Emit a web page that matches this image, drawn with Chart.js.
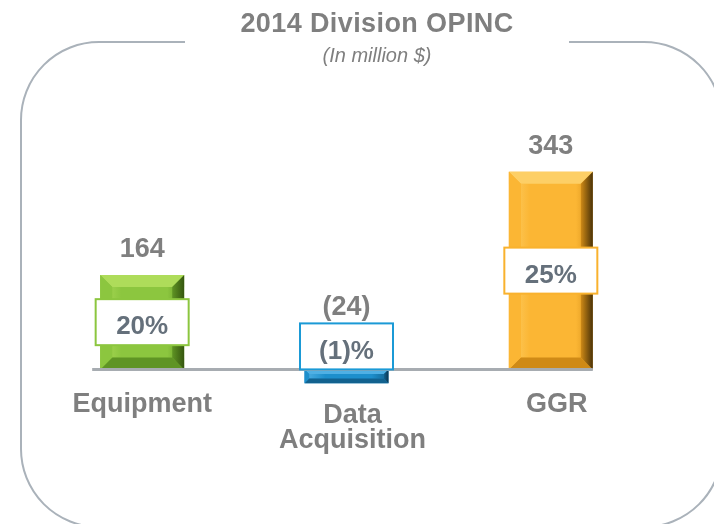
<!DOCTYPE html>
<html>
<head>
<meta charset="utf-8">
<script src="https://cdn.jsdelivr.net/npm/chart.js@4.4.0/dist/chart.umd.min.js"></script>
<style>
  html, body { margin: 0; padding: 0; background: #fff; }
  #wrap { width: 714px; height: 524px; }
</style>
</head>
<body>
<div id="wrap"><canvas id="opinc" width="714" height="524"></canvas></div>
<script>
// chart data
const categories = [['Equipment'], ['Data', 'Acquisition'], ['GGR']];
const opinc = [164, -24, 343];
const valueLabels = ['164', '(24)', '343'];
const marginLabels = ['20%', '(1)%', '25%'];

const titleText = '2014 Division OPINC';
const subTitleText = '(In million $)';

// colours per bar: face, light bevel, dark bevel, edge
const barStyles = [
    { face: '#8cc63f', light: '#aedc5a', dark: '#5f9424', edge: '#35560f', box: '#8cc63f' },
    { face: '#1d8fcc', light: '#4fb0e4', dark: '#12628f', edge: '#0a3550', box: '#1b9ad6' },
    { face: '#fbb634', light: '#fdcf66', dark: '#cf8a16', edge: '#4a3208', box: '#f9b22e' }
];

const FONT = '"Liberation Sans", Arial, sans-serif';
const GREY = '#7f7f7f';

function drawFrame(ctx){
    const l = 21, t = 42, r = 722, b = 527, rad = 78;
    ctx.save();
    ctx.strokeStyle = '#aab2ba';
    ctx.lineWidth = 2;
    ctx.beginPath();
    ctx.moveTo(185, t);
    ctx.arcTo(l, t, l, b, rad);
    ctx.arcTo(l, b, r, b, rad);
    ctx.arcTo(r, b, r, t, rad);
    ctx.arcTo(r, t, l, t, rad);
    ctx.lineTo(569, t);
    ctx.stroke();
    ctx.restore();
}

const decorPlugin = {
    id: 'decor',
    beforeDraw(chart){
        const ctx = chart.ctx;
        drawFrame(ctx);
        ctx.save();
        ctx.fillStyle = GREY;
        ctx.textAlign = 'center';
        ctx.textBaseline = 'alphabetic';
        ctx.font = 'bold 27px ' + FONT;
        ctx.letterSpacing = '0.4px';
        ctx.fillText(titleText, 377, 32);
        ctx.font = 'italic 20px ' + FONT;
        ctx.letterSpacing = '0px';
        ctx.fillText(subTitleText, 377, 62);
        ctx.restore();
    },
    afterDatasetsDraw(chart){
        const ctx = chart.ctx;
        const meta = chart.getDatasetMeta(0);
        const yZero = chart.scales.y.getPixelForValue(0);

        // bevels on top of the plain bars
        meta.data.forEach((bar, i) => {
            const st = barStyles[i];
            const w = bar.width;
            const l = bar.x - w / 2, r = bar.x + w / 2;
            const t = Math.min(bar.y, bar.base), btm = Math.max(bar.y, bar.base);
            const bv = Math.min(12, (btm - t) / 3);
            ctx.save();
            const g = ctx.createLinearGradient(l, 0, r, 0);
            g.addColorStop(0, st.light);
            g.addColorStop(0.25, st.face);
            g.addColorStop(0.8, st.face);
            g.addColorStop(1, st.dark);
            ctx.fillStyle = g;
            ctx.fillRect(l + bv, t + bv, w - 2 * bv, btm - t - 2 * bv);
            // top
            ctx.fillStyle = st.light;
            ctx.beginPath();
            ctx.moveTo(l, t); ctx.lineTo(r, t); ctx.lineTo(r - bv, t + bv); ctx.lineTo(l + bv, t + bv);
            ctx.closePath(); ctx.fill();
            // bottom
            ctx.fillStyle = st.dark;
            ctx.beginPath();
            ctx.moveTo(l, btm); ctx.lineTo(r, btm); ctx.lineTo(r - bv, btm - bv); ctx.lineTo(l + bv, btm - bv);
            ctx.closePath(); ctx.fill();
            // left
            ctx.fillStyle = st.face;
            ctx.beginPath();
            ctx.moveTo(l, t); ctx.lineTo(l + bv, t + bv); ctx.lineTo(l + bv, btm - bv); ctx.lineTo(l, btm);
            ctx.closePath(); ctx.fill();
            // right, shaded towards the edge
            const gr = ctx.createLinearGradient(r - bv, 0, r, 0);
            gr.addColorStop(0, st.dark);
            gr.addColorStop(1, st.edge);
            ctx.fillStyle = gr;
            ctx.beginPath();
            ctx.moveTo(r, t); ctx.lineTo(r - bv, t + bv); ctx.lineTo(r - bv, btm - bv); ctx.lineTo(r, btm);
            ctx.closePath(); ctx.fill();
            ctx.restore();
        });

        // zero line
        const first = meta.data[0], last = meta.data[meta.data.length - 1];
        ctx.save();
        ctx.strokeStyle = '#a7acb1';
        ctx.lineWidth = 3;
        ctx.beginPath();
        ctx.moveTo(first.x - first.width / 2 - 8, yZero);
        ctx.lineTo(last.x + last.width / 2, yZero);
        ctx.stroke();
        ctx.restore();

        // margin boxes, value labels, category labels
        let lowest = yZero;
        meta.data.forEach(bar => { lowest = Math.max(lowest, bar.y, bar.base); });

        meta.data.forEach((bar, i) => {
            const st = barStyles[i];
            const val = opinc[i];
            const cx = bar.x;
            const boxW = 93, boxH = 46;
            const boxCy = val >= 0 ? (bar.y + bar.base) / 2 : yZero - 23;
            ctx.save();
            ctx.fillStyle = '#ffffff';
            ctx.fillRect(cx - boxW / 2, boxCy - boxH / 2, boxW, boxH);
            ctx.strokeStyle = st.box;
            ctx.lineWidth = 2;
            ctx.strokeRect(cx - boxW / 2, boxCy - boxH / 2, boxW, boxH);

            ctx.textAlign = 'center';
            ctx.textBaseline = 'middle';
            ctx.fillStyle = '#65707b';
            ctx.font = 'bold 26px ' + FONT;
            ctx.fillText(marginLabels[i], cx, boxCy + 5);

            ctx.textBaseline = 'alphabetic';
            ctx.fillStyle = GREY;
            ctx.font = 'bold 27px ' + FONT;
            const vy = val >= 0 ? bar.y - 18 : yZero - 54;
            ctx.fillText(valueLabels[i], cx, vy);

            const lines = categories[i];
            let ly = lowest + 43;
            if (lines.length > 1) ly = lowest + 40;
            if (bar.y > yZero || bar.base > yZero) ly = Math.max(bar.y, bar.base) + 40;
            else ly = yZero + 43;
            lines.forEach((txt, k) => {
                ctx.fillText(txt, cx + (i > 0 ? 6 : 0), ly + k * 25);
            });
            ctx.restore();
        });
    }
};

new Chart(document.getElementById('opinc'), {
    type: 'bar',
    data: {
        labels: categories,
        datasets: [{
            data: opinc,
            backgroundColor: barStyles.map(s => s.face),
            borderWidth: 0,
            barPercentage: 0.411,
            categoryPercentage: 1
        }]
    },
    options: {
        responsive: false,
        animation: false,
        layout: { padding: { left: 40, right: 61, top: 139, bottom: 97 } },
        plugins: {
            legend: { display: false },
            tooltip: { enabled: false },
            title: { display: false }
        },
        scales: {
            x: { display: false },
            y: { display: false, min: -100, max: 400 }
        }
    },
    plugins: [decorPlugin]
});
</script>
</body>
</html>
